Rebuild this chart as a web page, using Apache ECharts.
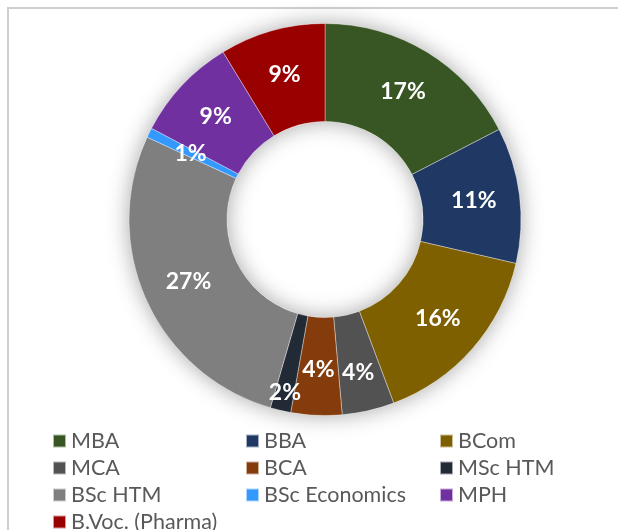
<!DOCTYPE html>
<html>
<head>
<meta charset="utf-8">
<script src="https://cdn.jsdelivr.net/npm/echarts@6/dist/echarts.min.js"></script>
<style>
html,body{margin:0;padding:0;background:#fff;}
#chart{width:618px;height:530px;}
</style>
</head>
<body>
<div id="chart"></div>
<script>
const categories = ['MBA','BBA','BCom','MCA','BCA','MSc HTM','BSc HTM','BSc Economics','MPH','B.Voc. (Pharma)'];
const shares = [17.4, 11.2, 15.7, 4.3, 4.2, 1.7, 27.4, 0.8, 8.6, 8.7];
const colors = ['#375623','#1f3864','#7f6000','#525252','#843c0c','#222a35','#7f7f7f','#3399ff','#7030a0','#990000'];
const legendColumns = [
  ['MBA','MCA','BSc HTM','B.Voc. (Pharma)'],
  ['BBA','BCA','BSc Economics'],
  ['BCom','MSc HTM','MPH']
];

const chart = echarts.init(document.getElementById('chart'), null, {renderer:'canvas'});

const labelShift = {3:{dx:0,dy:7}, 5:{dx:-6,dy:27}};
const legendLeft = [52, 245, 439];

const option = {
  animation: false,
  color: colors,
  graphic: [{
    type: 'rect',
    shape: {x: 8, y: 8, width: 700, height: 600},
    style: {fill: 'none', stroke: '#cfcfcf', lineWidth: 2},
    silent: true, z: -10
  }],
  legend: legendColumns.map((col, i) => ({
    data: col,
    orient: 'vertical',
    left: legendLeft[i],
    top: 430,
    width: 190,
    height: 160,
    itemWidth: 13,
    itemHeight: 13,
    itemGap: 5,
    icon: 'rect',
    selectedMode: false,
    textStyle: {fontFamily: 'Lato', fontSize: 21.5, lineHeight: 20, color: '#595959', padding: [0,0,0,0]},
    padding: 0
  })),
  series: [
    {
      type: 'pie',
      silent: true,
      center: [325, 219.5],
      radius: [98, 196],
      label: {show: false},
      labelLine: {show: false},
      itemStyle: {color: '#ffffff', shadowBlur: 22, shadowColor: 'rgba(0,0,0,0.35)'},
      data: [{value: 1, name: ''}],
      z: 1
    },
    {
      type: 'pie',
      center: [325, 219.5],
      radius: [98, 196],
      startAngle: 90,
      clockwise: true,
      avoidLabelOverlap: false,
      itemStyle: {borderColor: 'rgba(255,255,255,0.6)', borderWidth: 0.6},
      label: {
        show: true,
        position: 'inside',
        color: '#ffffff',
        fontFamily: 'Lato',
        fontWeight: 'bold',
        fontSize: 23,
        formatter: p => Math.round(p.percent) + '%'
      },
      labelLine: {show: false},
      labelLayout: p => labelShift[p.dataIndex] || {},
      emphasis: {disabled: true},
      data: categories.map((c, i) => ({name: c, value: shares[i]})),
      z: 2
    }
  ]
};
chart.setOption(option);
</script>
</body>
</html>
